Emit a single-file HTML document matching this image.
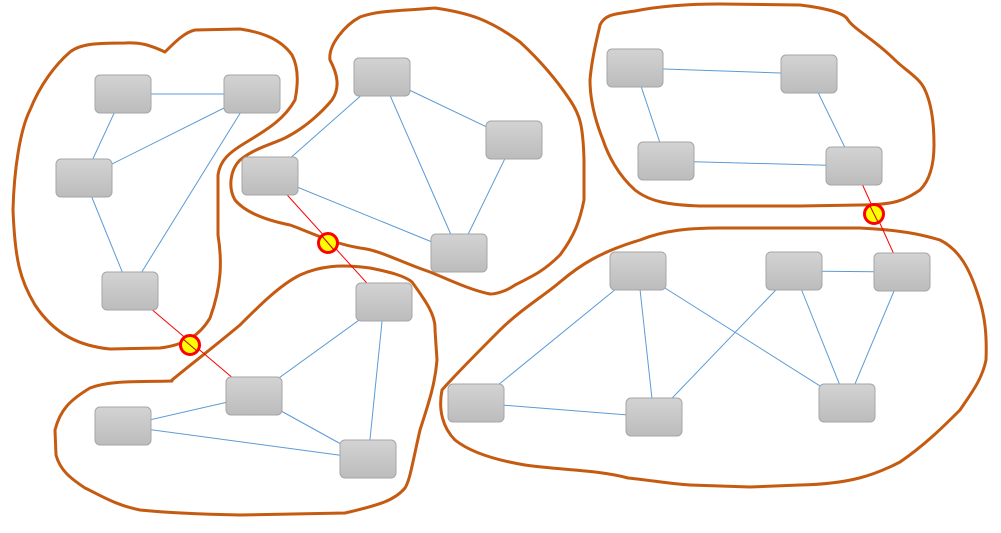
<!DOCTYPE html>
<html><head><meta charset="utf-8"><style>html,body{margin:0;padding:0;background:#fff;width:1001px;height:533px;overflow:hidden}</style></head>
<body>
<svg width="1001" height="533" viewBox="0 0 1001 533" xmlns="http://www.w3.org/2000/svg">
<defs>
<linearGradient id="g" x1="0" y1="0" x2="0" y2="1"><stop offset="0" stop-color="#d3d3d3"/><stop offset="1" stop-color="#bcbcbc"/></linearGradient>
</defs>
<g fill="none" stroke="#c55a11" stroke-width="3" stroke-linejoin="round" stroke-linecap="round">
<path d="M165,52 C175,42 185,32 195,30 L240,29 C260,32 280,38 292,55 C300,70 297,90 295,100 C285,118 270,128 245,143 C230,152 220,160 218,175 L218,235 C222,260 222,285 210,318 C200,335 185,345 160,348 L110,349 C80,346 55,335 35,305 C20,280 15,260 13,210 C14,170 20,130 30,110 C40,85 55,65 70,52 C80,44 95,43 125,43 C140,42 150,45 165,52"/>
<path d="M330,60 C328,45 345,25 360,17 C380,10 400,11 435,8 C470,13 490,20 520,42 C545,65 560,85 570,100 C580,115 583,125 584,160 L584,200 C580,220 575,235 560,255 C545,270 535,275 515,285 C505,292 495,294 490,294 C470,290 450,280 430,272 C400,262 380,250 360,248 C330,243 305,230 290,225 C265,220 245,212 235,200 C228,188 230,170 240,160 C255,148 270,145 285,138 C305,128 322,112 332,100 C340,88 338,75 330,60 Z"/>
<path d="M172,380 C190,365 210,350 240,325 C260,305 280,285 300,275 C320,266 340,264 370,268 C390,272 405,276 412,282 C425,300 436,315 435,330 L437,360 C435,385 428,405 420,430 C412,465 410,480 405,488 C395,500 380,505 345,513 L240,515 C190,514 160,512 140,510 C115,505 100,495 85,488 C70,478 60,470 56,455 L55,430 C60,410 70,400 90,388 C110,380 140,382 172,381"/>
<path d="M600,25 C605,14 615,14 635,11 C660,6 690,4 720,4 L800,5 C825,8 845,13 848,20 C855,30 875,40 895,60 C905,70 920,78 925,90 C932,105 934,125 934,145 C934,165 930,180 920,190 C905,200 895,205 860,205 L800,206 L700,206 C670,205 650,202 635,190 C618,175 608,155 603,140 C595,120 590,100 590,80 C592,55 598,35 600,25 Z"/>
<path d="M628,478 C600,470 560,470 525,465 C495,460 470,452 455,440 C443,428 438,410 442,390 C455,375 475,355 500,330 C520,310 545,295 560,282 C580,265 600,252 640,240 C665,230 690,228 720,228 L860,228 C900,230 920,234 940,240 C960,250 970,270 978,295 C985,315 987,335 986,360 C982,380 970,395 960,410 C945,425 925,445 900,462 C875,475 850,484 800,485 L750,487 L690,485 C670,484 650,480 628,478"/>
</g>
<g stroke="#5b9bd5" stroke-width="1">
<line x1="123" y1="94" x2="252" y2="94"/><line x1="123" y1="94" x2="84" y2="178"/><line x1="84" y1="178" x2="252" y2="94"/><line x1="84" y1="178" x2="130" y2="291"/><line x1="130" y1="291" x2="252" y2="94"/>
<line x1="270" y1="176" x2="382" y2="77"/><line x1="382" y1="77" x2="514" y2="140"/><line x1="382" y1="77" x2="459" y2="253"/><line x1="514" y1="140" x2="459" y2="253"/><line x1="270" y1="176" x2="459" y2="253"/>
<line x1="254" y1="396" x2="384" y2="302"/><line x1="384" y1="302" x2="368" y2="459"/><line x1="123" y1="426" x2="254" y2="396"/><line x1="123" y1="426" x2="368" y2="459"/><line x1="254" y1="396" x2="368" y2="459"/>
<line x1="635" y1="68" x2="809" y2="74"/><line x1="635" y1="68" x2="666" y2="161"/><line x1="809" y1="74" x2="854" y2="166"/><line x1="666" y1="161" x2="854" y2="166"/>
<line x1="638" y1="271" x2="476" y2="403"/><line x1="638" y1="271" x2="654" y2="417"/><line x1="638" y1="271" x2="847" y2="403"/><line x1="794" y1="271" x2="654" y2="417"/><line x1="794" y1="271" x2="902" y2="272"/><line x1="794" y1="271" x2="847" y2="403"/><line x1="902" y1="272" x2="847" y2="403"/><line x1="476" y1="403" x2="654" y2="417"/>
</g>
<g stroke="#ff0000" stroke-width="1">
<line x1="130" y1="291" x2="254" y2="396"/><line x1="270" y1="176" x2="384" y2="302"/><line x1="854" y1="166" x2="902" y2="272"/>
</g>
<g fill="url(#g)" stroke="#a6a6a6" stroke-width="1">
<rect x="95" y="75" width="56" height="38" rx="5"/><rect x="224" y="75" width="56" height="38" rx="5"/><rect x="56" y="159" width="56" height="38" rx="5"/><rect x="102" y="272" width="56" height="38" rx="5"/>
<rect x="354" y="58" width="56" height="38" rx="5"/><rect x="486" y="121" width="56" height="38" rx="5"/><rect x="242" y="157" width="56" height="38" rx="5"/><rect x="431" y="234" width="56" height="38" rx="5"/>
<rect x="356" y="283" width="56" height="38" rx="5"/><rect x="226" y="377" width="56" height="38" rx="5"/><rect x="95" y="407" width="56" height="38" rx="5"/><rect x="340" y="440" width="56" height="38" rx="5"/>
<rect x="607" y="49" width="56" height="38" rx="5"/><rect x="781" y="55" width="56" height="38" rx="5"/><rect x="638" y="142" width="56" height="38" rx="5"/><rect x="826" y="147" width="56" height="38" rx="5"/>
<rect x="610" y="252" width="56" height="38" rx="5"/><rect x="766" y="252" width="56" height="38" rx="5"/><rect x="874" y="253" width="56" height="38" rx="5"/><rect x="448" y="384" width="56" height="38" rx="5"/><rect x="626" y="398" width="56" height="38" rx="5"/><rect x="819" y="384" width="56" height="38" rx="5"/>
</g>
<g fill="#ffff00" stroke="#ff0000" stroke-width="3">
<circle cx="190" cy="345" r="9.5"/><circle cx="328" cy="243" r="9.5"/><circle cx="874" cy="214" r="9.5"/>
</g>
<g stroke="#c00000" stroke-width="1">
<line x1="183" y1="339" x2="197" y2="351"/><line x1="322" y1="236" x2="334" y2="250"/><line x1="870" y1="206" x2="878" y2="222"/>
</g>
</svg>
</body></html>
